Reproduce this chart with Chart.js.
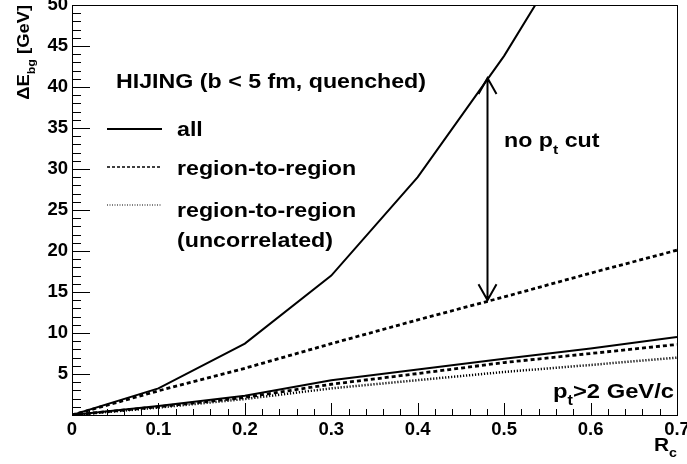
<!DOCTYPE html>
<html>
<head>
<meta charset="utf-8">
<script src="https://cdn.jsdelivr.net/npm/chart.js@4.4.1/dist/chart.umd.min.js"></script>
<style>
    html, body { margin: 0; padding: 0; background: #fff; }
    #wrap { width: 687px; height: 464px; }
</style>
</head>
<body>
<div id="wrap"><canvas id="chart" width="687" height="464"></canvas></div>
<script>
// ============================================
// Data
// ============================================

const rc = [0, 0.1, 0.2, 0.3, 0.4, 0.5, 0.6, 0.7];

// no pt cut
const allNoCut = [0, 3.25, 8.7, 17.0, 29.0, 43.8, 61.0];
const rtrNoCut = [0, 2.95, 5.7, 8.7, 11.6, 14.4, 17.3, 20.1];

// pt > 2 GeV/c
const allPt2 = [0, 1.1, 2.35, 4.25, 5.55, 6.85, 8.1, 9.5];
const rtrPt2 = [0, 1.0, 2.15, 3.75, 5.05, 6.4, 7.5, 8.6];
const uncPt2 = [0, 0.9, 1.95, 3.25, 4.25, 5.25, 6.1, 7.0];

const xTicks = [0, 0.1, 0.2, 0.3, 0.4, 0.5, 0.6, 0.7];
const yTicks = [5, 10, 15, 20, 25, 30, 35, 40, 45, 50];

// arrow between the two "no pt cut" curves
const arrowX = 0.48;
const arrowFrom = 14.0;
const arrowTo = 41.1;

// ============================================
// Styles
// ============================================

const FONT = '"Liberation Sans", Arial, Helvetica, sans-serif';
const STRETCH = 1.16;
const SOLID = [];
const DASHED = [4, 3];
const DOTTED = [1.2, 1.8];

function pts(values) {
    return values.map((v, i) => ({ x: rc[i], y: v }));
}

function line(label, values, dash, width) {
    return {
        label: label,
        data: pts(values),
        borderColor: '#000',
        borderWidth: width,
        borderDash: dash,
        pointRadius: 0,
        tension: 0,
        fill: false,
        clip: 0
    };
}

// draws text pieces (with subscripts) horizontally stretched like the original
function richText(ctx, parts, x, y, size, align, stretch) {
    ctx.save();
    ctx.translate(x, y);
    ctx.scale(stretch || STRETCH, 1);
    ctx.textBaseline = 'alphabetic';
    ctx.fillStyle = '#000';
    let total = 0;
    parts.forEach(p => {
        ctx.font = 'bold ' + (p.sub ? size * 0.68 : size) + 'px ' + FONT;
        total += ctx.measureText(p.t).width;
    });
    let cx = align === 'right' ? -total : 0;
    parts.forEach(p => {
        ctx.font = 'bold ' + (p.sub ? size * 0.68 : size) + 'px ' + FONT;
        ctx.fillText(p.t, cx, p.sub ? size * 0.33 : 0);
        cx += ctx.measureText(p.t).width;
    });
    ctx.restore();
}

// ============================================
// ROOT-like frame, ticks, arrow and labels
// ============================================

const rootDecor = {
    id: 'rootDecor',
    beforeDraw(chart) {
        const ctx = chart.ctx;
        ctx.save();
        ctx.fillStyle = '#fff';
        ctx.fillRect(0, 0, chart.width, chart.height);
        ctx.restore();
    },
    afterDraw(chart) {
        const ctx = chart.ctx;
        const a = chart.chartArea;
        const xs = chart.scales.x;
        const ys = chart.scales.y;

        ctx.save();
        ctx.strokeStyle = '#000';
        ctx.lineWidth = 1;

        // frame
        ctx.strokeRect(Math.round(a.left) + 0.5, Math.round(a.top) + 0.5,
            Math.round(a.right - a.left), Math.round(a.bottom - a.top));

        // inner ticks
        ctx.beginPath();
        for (let v = 0; v <= 50; v += 1) {
            const py = Math.round(ys.getPixelForValue(v)) + 0.5;
            const len = v % 5 === 0 ? 18 : 9;
            ctx.moveTo(a.left, py);
            ctx.lineTo(a.left + len, py);
        }
        for (let k = 0; k <= 35; k++) {
            const px = Math.round(xs.getPixelForValue(k * 0.02)) + 0.5;
            const len = k % 5 === 0 ? 12 : 6;
            ctx.moveTo(px, a.bottom);
            ctx.lineTo(px, a.bottom - len);
        }
        ctx.stroke();

        // double arrow
        const ax = Math.round(xs.getPixelForValue(arrowX)) + 0.5;
        const y0 = ys.getPixelForValue(arrowFrom);
        const y1 = ys.getPixelForValue(arrowTo);
        ctx.lineWidth = 2;
        ctx.beginPath();
        ctx.moveTo(ax, y0);
        ctx.lineTo(ax, y1);
        ctx.moveTo(ax - 9, y1 + 16);
        ctx.lineTo(ax, y1);
        ctx.lineTo(ax + 9, y1 + 16);
        ctx.moveTo(ax - 9, y0 - 16);
        ctx.lineTo(ax, y0);
        ctx.lineTo(ax + 9, y0 - 16);
        ctx.stroke();

        // legend samples
        const samples = [
            { y: 129, dash: SOLID, w: 2 },
            { y: 167, dash: [3, 2], w: 1.5 },
            { y: 205, dash: [1, 1.5], w: 1.2 }
        ];
        samples.forEach(s => {
            ctx.lineWidth = s.w;
            ctx.setLineDash(s.dash);
            ctx.beginPath();
            ctx.moveTo(107, s.y);
            ctx.lineTo(162, s.y);
            ctx.stroke();
        });
        ctx.setLineDash([]);
        ctx.restore();

        // texts
        richText(ctx, [{ t: 'HIJING (b < 5 fm, quenched)' }], 116, 88, 20);
        richText(ctx, [{ t: 'all' }], 177, 136, 20);
        richText(ctx, [{ t: 'region-to-region' }], 177, 175, 20);
        richText(ctx, [{ t: 'region-to-region' }], 177, 217, 20);
        richText(ctx, [{ t: '(uncorrelated)' }], 177, 247, 20);
        richText(ctx, [{ t: 'no p' }, { t: 't', sub: true }, { t: ' cut' }], 504, 147, 20);
        richText(ctx, [{ t: 'p' }, { t: 't', sub: true }, { t: '>2 GeV/c' }], 553, 398, 20.5);

        // axis titles
        richText(ctx, [{ t: 'R' }, { t: 'c', sub: true }], a.right, 451, 18, 'right');
        ctx.save();
        ctx.translate(29, a.top);
        ctx.rotate(-Math.PI / 2);
        richText(ctx, [{ t: '\u0394E' }, { t: 'bg', sub: true }, { t: ' [GeV]' }], 0, 0, 17, 'right', 1.08);
        ctx.restore();
    }
};

// ============================================
// Chart
// ============================================

const tickFont = { family: FONT, size: 18.5, weight: 'bold' };

new Chart(document.getElementById('chart').getContext('2d'), {
    type: 'line',
    data: {
        datasets: [
            line('all', allNoCut, SOLID, 2),
            line('region-to-region', rtrNoCut, DASHED, 2.8),
            line('all (pt>2)', allPt2, SOLID, 2),
            line('region-to-region (pt>2)', rtrPt2, DASHED, 2.8),
            line('region-to-region uncorrelated (pt>2)', uncPt2, DOTTED, 2.5)
        ]
    },
    options: {
        responsive: false,
        animation: false,
        devicePixelRatio: 1,
        layout: { padding: { top: 5, right: 10, left: 0, bottom: 0 } },
        plugins: {
            legend: { display: false },
            tooltip: { enabled: false }
        },
        scales: {
            x: {
                type: 'linear',
                min: 0,
                max: 0.7,
                grid: { display: false, drawTicks: false },
                border: { display: false },
                afterBuildTicks: s => { s.ticks = xTicks.map(v => ({ value: v })); },
                ticks: {
                    color: '#000',
                    font: tickFont,
                    padding: 4,
                    maxRotation: 0,
                    autoSkip: false,
                    callback: v => (v === 0 ? '0' : v.toFixed(1))
                },
                afterFit: s => { s.height = 49; s.paddingLeft = 0; s.paddingRight = 0; }
            },
            y: {
                type: 'linear',
                min: 0,
                max: 50,
                grid: { display: false, drawTicks: false },
                border: { display: false },
                afterBuildTicks: s => { s.ticks = yTicks.map(v => ({ value: v })); },
                ticks: {
                    color: '#000',
                    font: tickFont,
                    padding: 4,
                    autoSkip: false
                },
                afterFit: s => { s.width = 72; s.paddingTop = 0; s.paddingBottom = 0; }
            }
        }
    },
    plugins: [rootDecor]
});
</script>
</body>
</html>
